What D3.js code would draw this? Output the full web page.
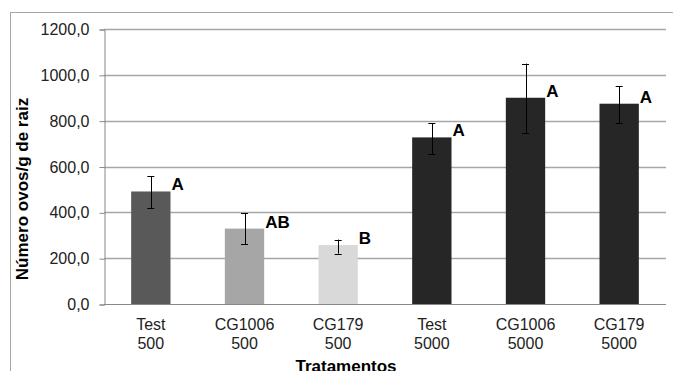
<!DOCTYPE html>
<html>
<head>
<meta charset="utf-8">
<script src="https://cdn.jsdelivr.net/npm/d3@7"></script>
<style>
  body { margin: 0; background: #fff; }
  svg { display: block; font-family: Arial, "Liberation Sans", sans-serif; }
</style>
</head>
<body>
<svg id="chart" width="673" height="371"></svg>
<script>
// treatments, two label lines each
var categories = ['Test 500', 'CG1006 500', 'CG179 500', 'Test 5000', 'CG1006 5000', 'CG179 5000'];
var labelTop = ['Test', 'CG1006', 'CG179', 'Test', 'CG1006', 'CG179'];
var labelBottom = ['500', '500', '500', '5000', '5000', '5000'];
var means = [491, 329, 257, 727, 900, 874];
var errLow = [419, 260, 220, 655, 747, 788];
var errHigh = [557, 397, 281, 788, 1049, 951];
var letters = ['A', 'AB', 'B', 'A', 'A', 'A'];
var barColors = ['#595959', '#a6a6a6', '#d9d9d9', '#262626', '#262626', '#262626'];
var yTicks = [0, 200, 400, 600, 800, 1000, 1200];

var svg = d3.select('#chart');
var plotLeft = 104, plotRight = 666, plotTop = 29, plotBottom = 304;

// outer frame
svg.append('rect')
    .attr('x', 10.5).attr('y', 12.5)
    .attr('width', 700).attr('height', 400)
    .attr('fill', 'none').attr('stroke', '#a6a6a6');

var x = d3.scaleBand().domain(categories).range([plotLeft, plotRight]).paddingInner(0.58).paddingOuter(0.29);
var y = d3.scaleLinear().domain([0, 1200]).range([plotBottom, plotTop]);

// gridlines
svg.append('g').selectAll('line').data(yTicks.slice(1)).enter()
    .append('line')
    .attr('x1', plotLeft).attr('x2', plotRight)
    .attr('y1', function(d) { return Math.round(y(d)) + 0.5; })
    .attr('y2', function(d) { return Math.round(y(d)) + 0.5; })
    .attr('stroke', '#a6a6a6').attr('stroke-width', 1.5);

// y axis
var yAxis = svg.append('g')
    .attr('transform', 'translate(' + (plotLeft + 0.5) + ',0.5)')
    .call(d3.axisLeft(y).tickValues(yTicks).tickSize(5).tickPadding(10)
        .tickFormat(function(d) { return d3.format('.1f')(d).replace('.', ','); }));
yAxis.select('.domain').attr('stroke', '#888');
yAxis.selectAll('.tick line').attr('stroke', '#888');
yAxis.selectAll('text').attr('font-size', '16px').attr('fill', '#222')
    .attr('font-family', 'Arial, "Liberation Sans", sans-serif');

// bars
svg.append('g').selectAll('rect').data(categories).enter()
    .append('rect')
    .attr('x', function(d) { return x(d); })
    .attr('y', function(d, i) { return y(means[i]); })
    .attr('width', x.bandwidth())
    .attr('height', function(d, i) { return y(0) - y(means[i]); })
    .attr('fill', function(d, i) { return barColors[i]; });

// baseline
svg.append('line')
    .attr('x1', plotLeft).attr('x2', plotRight)
    .attr('y1', y(0) + 0.5).attr('y2', y(0) + 0.5)
    .attr('stroke', '#888');

// error bars
var eb = svg.append('g').selectAll('g').data(categories).enter().append('g')
    .attr('stroke', '#000').attr('stroke-width', 1);
eb.append('line')
    .attr('x1', function(d) { return Math.round(x(d) + x.bandwidth() / 2) + 0.5; })
    .attr('x2', function(d) { return Math.round(x(d) + x.bandwidth() / 2) + 0.5; })
    .attr('y1', function(d, i) { return y(errLow[i]); })
    .attr('y2', function(d, i) { return y(errHigh[i]); });
eb.append('line')
    .attr('x1', function(d) { return x(d) + x.bandwidth() / 2 - 3.5; })
    .attr('x2', function(d) { return x(d) + x.bandwidth() / 2 + 3.5; })
    .attr('y1', function(d, i) { return Math.round(y(errLow[i])) + 0.5; })
    .attr('y2', function(d, i) { return Math.round(y(errLow[i])) + 0.5; });
eb.append('line')
    .attr('x1', function(d) { return x(d) + x.bandwidth() / 2 - 3.5; })
    .attr('x2', function(d) { return x(d) + x.bandwidth() / 2 + 3.5; })
    .attr('y1', function(d, i) { return Math.round(y(errHigh[i])) + 0.5; })
    .attr('y2', function(d, i) { return Math.round(y(errHigh[i])) + 0.5; });

// significance letters
svg.append('g').selectAll('text').data(categories).enter()
    .append('text')
    .attr('x', function(d) { return x(d) + x.bandwidth() + 1; })
    .attr('y', function(d, i) { return y(means[i]) - 1; })
    .attr('font-size', '17px').attr('font-weight', 'bold').attr('fill', '#000')
    .text(function(d, i) { return letters[i]; });

// category labels
var cl = svg.append('g').selectAll('text').data(categories).enter()
    .append('text')
    .attr('text-anchor', 'middle')
    .attr('font-size', '16px').attr('fill', '#222');
cl.append('tspan')
    .attr('x', function(d) { return x(d) + x.bandwidth() / 2; })
    .attr('y', 330)
    .text(function(d, i) { return labelTop[i]; });
cl.append('tspan')
    .attr('x', function(d) { return x(d) + x.bandwidth() / 2; })
    .attr('y', 349)
    .text(function(d, i) { return labelBottom[i]; });

// axis titles
svg.append('text')
    .attr('x', 346).attr('y', 372)
    .attr('text-anchor', 'middle')
    .attr('font-size', '17px').attr('font-weight', 'bold')
    .text('Tratamentos');
svg.append('text')
    .attr('transform', 'translate(28,189) rotate(-90)')
    .attr('text-anchor', 'middle')
    .attr('font-size', '17px').attr('font-weight', 'bold')
    .text('Número ovos/g de raiz');
</script>
</body>
</html>
